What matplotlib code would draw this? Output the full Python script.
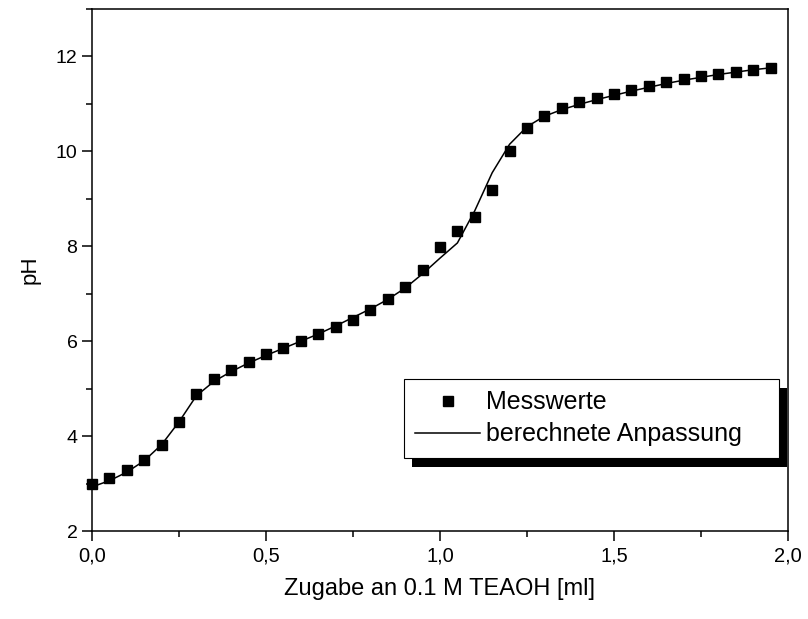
import matplotlib
matplotlib.use("Agg")
import matplotlib.pyplot as plt
from matplotlib.patches import Rectangle
from matplotlib.ticker import MultipleLocator, FuncFormatter

plt.rcParams['font.family'] = ['Liberation Sans', 'DejaVu Sans']

x_meas = [0.00, 0.05, 0.10, 0.15, 0.20, 0.25, 0.30, 0.35, 0.40, 0.45,
          0.50, 0.55, 0.60, 0.65, 0.70, 0.75, 0.80, 0.85, 0.90, 0.95,
          1.00, 1.05, 1.10, 1.15, 1.20, 1.25, 1.30, 1.35, 1.40, 1.45,
          1.50, 1.55, 1.60, 1.65, 1.70, 1.75, 1.80, 1.85, 1.90, 1.95]
ph_meas = [3.00, 3.12, 3.28, 3.50, 3.82, 4.30, 4.88, 5.20, 5.40, 5.56,
           5.72, 5.86, 6.00, 6.16, 6.30, 6.45, 6.65, 6.88, 7.15, 7.50,
           7.98, 8.33, 8.62, 9.18, 10.00, 10.50, 10.75, 10.92, 11.03, 11.12,
           11.20, 11.30, 11.38, 11.46, 11.52, 11.58, 11.63, 11.67, 11.72, 11.76]
ph_fit = [2.93, 3.06, 3.24, 3.48, 3.82, 4.30, 4.85, 5.15, 5.36, 5.54,
          5.70, 5.85, 6.00, 6.15, 6.32, 6.50, 6.68, 6.88, 7.12, 7.42,
          7.75, 8.07, 8.75, 9.55, 10.15, 10.52, 10.74, 10.88, 10.99, 11.09,
          11.18, 11.27, 11.35, 11.43, 11.50, 11.56, 11.62, 11.67, 11.72, 11.76]

xlabel = "Zugabe an 0.1 M TEAOH [ml]"
ylabel = "pH"
labels = ["Messwerte", "berechnete Anpassung"]

fig = plt.figure(figsize=(8.08, 6.19), dpi=100)
ax = fig.add_axes([92/808, 1-531/619, 696/808, 522/619])

ax.plot(x_meas, ph_meas, linestyle='none', marker='s', markersize=7.5,
        color='black', label=labels[0], clip_on=False, zorder=3)
ax.plot(x_meas, ph_fit, color='black', linewidth=1.1, label=labels[1], zorder=2)

ax.set_xlim(0, 2.0)
ax.set_ylim(2, 13)
ax.xaxis.set_major_locator(MultipleLocator(0.5))
ax.xaxis.set_minor_locator(MultipleLocator(0.25))
ax.yaxis.set_major_locator(MultipleLocator(2))
ax.yaxis.set_minor_locator(MultipleLocator(1))
ax.xaxis.set_major_formatter(FuncFormatter(lambda v, p: f"{v:.1f}".replace('.', ',')))
ax.yaxis.set_major_formatter(FuncFormatter(lambda v, p: f"{int(round(v))}"))

for s in ax.spines.values():
    s.set_linewidth(1.1)
ax.tick_params(which='major', direction='out', length=7, width=1.1, labelsize=14)
ax.tick_params(which='minor', direction='out', length=4.5, width=1.1)
ax.tick_params(axis='x', which='major', labelsize=14.5, pad=4)
ax.tick_params(right=False, top=False)

ax.set_xlabel(xlabel, fontsize=17, labelpad=9)
ax.set_ylabel(ylabel, fontsize=16, labelpad=11)

leg = ax.legend(loc='upper left', bbox_to_anchor=(0.448, 0.291, 0.539, 0.0),
                mode='expand', fontsize=18, frameon=True, fancybox=False,
                framealpha=1, edgecolor='black', borderpad=0.45,
                handlelength=2.6, handletextpad=0.25, labelspacing=0.32,
                borderaxespad=0)
leg.get_frame().set_linewidth(0.8)
leg.set_zorder(5)

fig.canvas.draw()
bb = leg.get_window_extent()
shadow = Rectangle((bb.x0 + 8, bb.y0 - 9), bb.width, bb.height,
                   transform=None, facecolor='black', edgecolor='none',
                   zorder=4, clip_on=False)
ax.add_artist(shadow)
shadow.set_clip_on(False)

fig.savefig("out.png", dpi=100)
